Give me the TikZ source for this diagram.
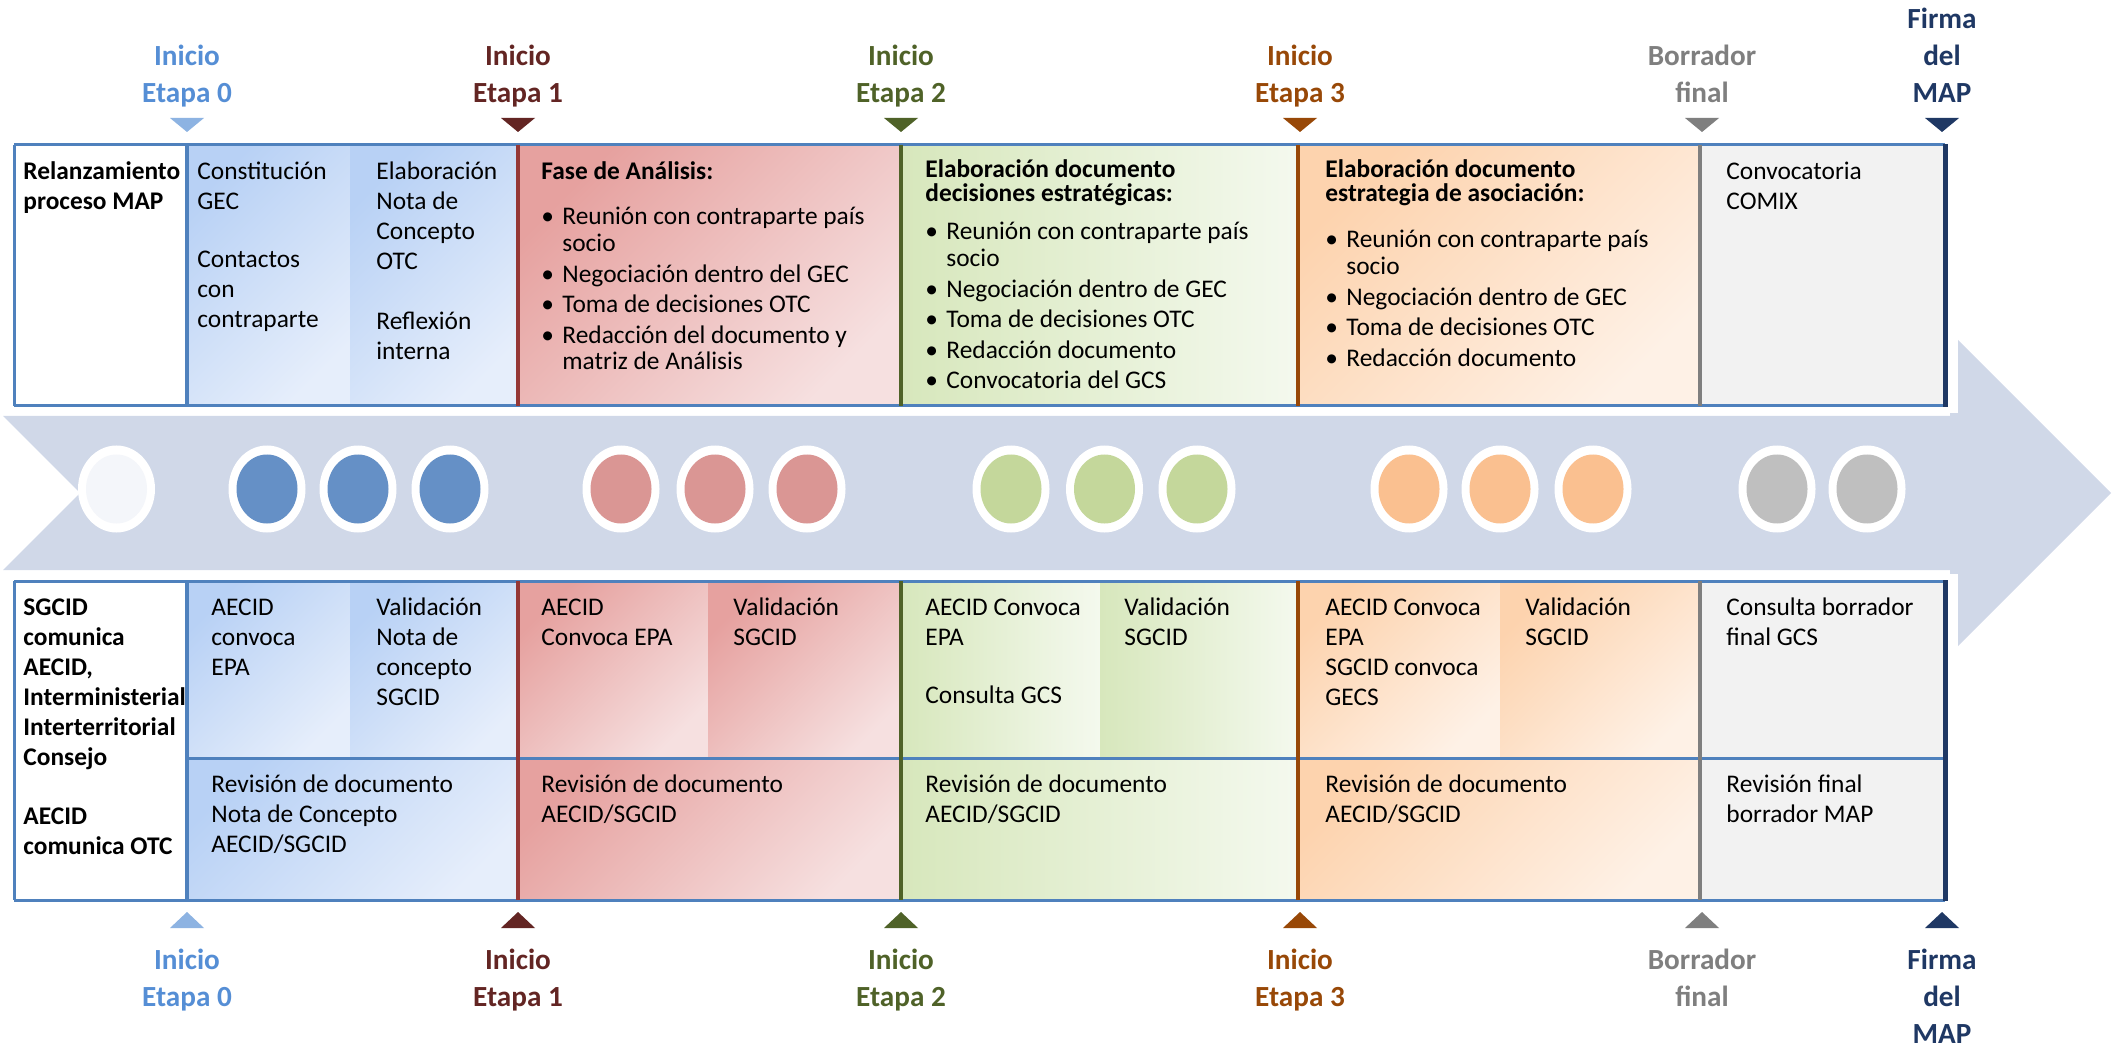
\documentclass[tikz,border=0pt]{standalone}
\usepackage{fontspec}
\setmainfont{Carlito}

\definecolor{tblue}{HTML}{4F81BD}
\definecolor{band}{HTML}{D0D8E8}
\definecolor{eta0}{HTML}{558ED5}
\definecolor{tri0}{HTML}{8DB3E2}
\definecolor{eta1}{HTML}{632523}
\definecolor{lin1}{HTML}{953735}
\definecolor{eta2}{HTML}{4F6228}
\definecolor{eta3}{HTML}{984807}
\definecolor{borr}{HTML}{7F7F7F}
\definecolor{firma}{HTML}{1F3864}
\definecolor{bluA}{HTML}{B8D1F5}
\definecolor{bluB}{HTML}{E6EEFB}
\definecolor{redA}{HTML}{E6A19F}
\definecolor{redB}{HTML}{F6E0E0}
\definecolor{grnA}{HTML}{D7E7BC}
\definecolor{grnB}{HTML}{F4F9EE}
\definecolor{orgA}{HTML}{FDD3AE}
\definecolor{orgB}{HTML}{FEF1E6}
\definecolor{gryF}{HTML}{F2F2F2}
\definecolor{ewhi}{HTML}{F4F6FA}
\definecolor{eblu}{HTML}{6590C6}
\definecolor{ered}{HTML}{DA9694}
\definecolor{egrn}{HTML}{C4D79B}
\definecolor{eorg}{HTML}{FAC090}
\definecolor{egry}{HTML}{BFBFBF}

\newcommand{\bodyfont}{\fontsize{12.7}{15}\selectfont}
\newcommand{\listfont}{\fontsize{12.7}{13.3}\selectfont}
\newcommand{\headfont}{\fontsize{12.7}{12}\selectfont\bfseries}
\newcommand{\mapfont}{\fontsize{14.6}{18.5}\selectfont\bfseries}
\newcommand{\cellt}[1]{\parbox[t]{200pt}{\raggedright\lineskiplimit=-10pt\setlength{\parskip}{2pt}#1}}
\newcommand{\bul}{\par\hangindent=10.5pt\hangafter=1\noindent\makebox[10.5pt][l]{\textbullet}}

\tikzset{
  txt/.style={anchor=base west, inner sep=0pt, font=\bodyfont},
  lab/.style={txt, font=\bodyfont\bfseries},
  hdr/.style={txt, font=\headfont},
  lst/.style={txt, font=\listfont},
  milestone/.style={anchor=base, inner sep=0pt, font=\mapfont},
  bord/.style={line width=1.5pt, tblue},
  stg/.style={line width=2pt},
  bluf/.style={top color=bluA, bottom color=bluB, shading angle=45},
  redf/.style={top color=redA, bottom color=redB, shading angle=45},
  grnf/.style={left color=grnA, right color=grnB},
  orgf/.style={top color=orgA, bottom color=orgB, shading angle=45}
}

\begin{document}
\begin{tikzpicture}[x=0.5pt,y=-0.5pt]
	\useasboundingbox (0,0) rectangle (2112,1047);

	\fill[band] (3,416) -- (1950,416) -- (1950,332) -- (2111,493) -- (1950,654) -- (1950,570) -- (3,570) -- (80,493) -- cycle;
	\fill[white] (0,0) rectangle (1958,413);
	\fill[white] (0,574) rectangle (1958,1047);

	\foreach \x/\c in {116.5/ewhi,267/eblu,358/eblu,450/eblu,621/ered,715/ered,807/ered,1011/egrn,1104.5/egrn,1197/egrn,1409/eorg,1500/eorg,1593/eorg,1777/egry,1867/egry}
	{
		\fill[white] (\x,489) ellipse [x radius=38.5, y radius=43.5];
		\fill[\c] (\x,489) ellipse [x radius=30.5, y radius=34.5];
	}

	\path[bluf] (187,145) rectangle (350,406);
	\path[bluf] (350,145) rectangle (518,406);
	\path[redf] (518,145) rectangle (901,406);
	\path[grnf] (901,145) rectangle (1298,406);
	\path[orgf] (1298,145) rectangle (1700,406);
	\fill[gryF] (1700,145) rectangle (1945,406);
	\foreach \a/\m/\b/\s in {187/350/518/bluf,518/708/901/redf,901/1100/1298/grnf,1298/1500/1700/orgf}
	{
		\path[\s] (\a,581) rectangle (\m,758);
		\path[\s] (\m,581) rectangle (\b,758);
		\path[\s] (\a,758) rectangle (\b,900);
	}
	\fill[gryF] (1700,581) rectangle (1945,900);

	\draw[bord] (14,145) -- (1945,145) (14,406) -- (1945,406) (14,145) -- (14,406);
	\draw[bord] (14,581) -- (1945,581) (14,900) -- (1945,900) (14,581) -- (14,900) (187,758) -- (1945,758);
	\foreach \x/\c in {187/tblue,518/lin1,901/eta2,1298/eta3,1700/borr}
		\draw[stg,\c] (\x,145) -- (\x,406) (\x,581) -- (\x,900);
	\draw[line width=2.5pt,firma] (1945,144) -- (1945,407) (1945,580) -- (1945,901);

	\foreach \x/\c/\t/\l [count=\i] in {187/eta0/tri0/{Inicio\\Etapa 0},518/eta1/eta1/{Inicio\\Etapa 1},901/eta2/eta2/{Inicio\\Etapa 2},1300/eta3/eta3/{Inicio\\Etapa 3},1702/borr/borr/{Borrador\\final},1942/firma/firma/{Firma\\del\\MAP}}
	{
		\node[milestone,text=\c] (top\i) at (\x,103) {\parbox[b]{120pt}{\centering\l}};
		\node[milestone,text=\c] (bot\i) at (\x,969) {\parbox[t]{120pt}{\centering\l}};
		\fill[\t] (\x-17,118) -- (\x+17,118) -- (\x,132) -- cycle;
		\fill[\t] (\x-17,928) -- (\x+17,928) -- (\x,912) -- cycle;
	}

	\node[lab] (relanz) at (23,180) {\cellt{Relanzamiento\\proceso MAP}};
	\node[txt] (constit) at (197,180) {\cellt{Constitución\\GEC\\[14pt]Contactos\\con\\contraparte}};
	\node[txt] (elabnota) at (376,180) {\cellt{Elaboración\\Nota de\\Concepto\\OTC\\[15pt]Reflexión\\interna}};
	\node[hdr] (fase) at (541,180) {Fase de Análisis:};
	\node[lst] (lista1) at (541,225) {\cellt{\bul Reunión con contraparte país\newline socio \bul Negociación dentro del GEC \bul Toma de decisiones OTC \bul Redacción del documento y\newline matriz de Análisis}};
	\node[hdr] (decis) at (925,178) {\cellt{Elaboración documento\\decisiones estratégicas:}};
	\node[lst] (lista2) at (925,240) {\cellt{\bul Reunión con contraparte país\newline socio \bul Negociación dentro de GEC \bul Toma de decisiones OTC \bul Redacción documento \bul Convocatoria del GCS}};
	\node[hdr] (estrat) at (1325,178) {\cellt{Elaboración documento\\estrategia de asociación:}};
	\node[lst] (lista3) at (1325,248) {\cellt{\bul Reunión con contraparte país\newline socio \bul Negociación dentro de GEC \bul Toma de decisiones OTC \bul Redacción documento}};
	\node[txt] (comix) at (1726,180) {\cellt{Convocatoria\\COMIX}};

	\node[lab] (sgcid) at (23,615) {\cellt{SGCID\\comunica\\AECID,\\Interministerial\\Interterritorial\\Consejo\\[14.5pt]AECID\\comunica OTC}};
	\node[txt] (epa0) at (211,615) {\cellt{AECID\\convoca\\EPA}};
	\node[txt] (valid0) at (376,615) {\cellt{Validación\\Nota de\\concepto\\SGCID}};
	\node[txt] (revis0) at (211,792) {\cellt{Revisión de documento\\Nota de Concepto\\AECID/SGCID}};
	\node[txt] (epa1) at (541,615) {\cellt{AECID\\Convoca EPA}};
	\node[txt] (valid1) at (733,615) {\cellt{Validación\\SGCID}};
	\node[txt] (revis1) at (541,792) {\cellt{Revisión de documento\\AECID/SGCID}};
	\node[txt] (epa2) at (925,615) {\cellt{AECID Convoca\\EPA\\[14pt]Consulta GCS}};
	\node[txt] (valid2) at (1124,615) {\cellt{Validación\\SGCID}};
	\node[txt] (revis2) at (925,792) {\cellt{Revisión de documento\\AECID/SGCID}};
	\node[txt] (epa3) at (1325,615) {\cellt{AECID Convoca\\EPA\\SGCID convoca\\GECS}};
	\node[txt] (valid3) at (1525,615) {\cellt{Validación\\SGCID}};
	\node[txt] (revis3) at (1325,792) {\cellt{Revisión de documento\\AECID/SGCID}};
	\node[txt] (consulta) at (1726,615) {\cellt{Consulta borrador\\final GCS}};
	\node[txt] (revfinal) at (1726,792) {\cellt{Revisión final\\borrador MAP}};
\end{tikzpicture}
\end{document}
